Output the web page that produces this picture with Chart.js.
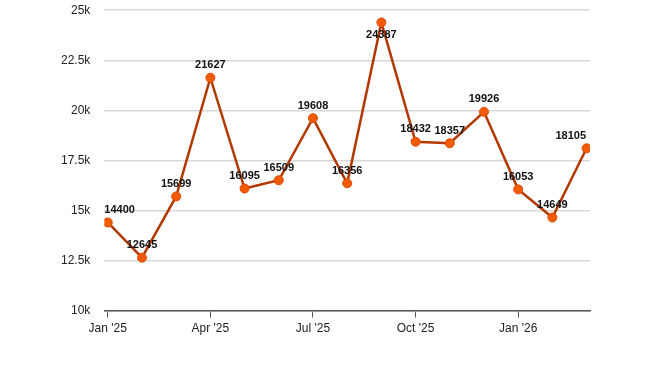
<!DOCTYPE html>
<html>
<head>
<meta charset="utf-8">
<script src="https://cdn.jsdelivr.net/npm/chart.js@4.4.1/dist/chart.umd.min.js"></script>
<style>
  html, body { margin: 0; padding: 0; background: #fff; overflow: hidden; }
  #wrap { position: relative; top: -11px; width: 650px; height: 377px; }
</style>
</head>
<body>
<div id="wrap"><canvas id="grafico"></canvas></div>
<script>
// dados
const meses = ["Jan '25", "Feb '25", "Mar '25", "Apr '25", "May '25", "Jun '25", "Jul '25", "Aug '25",
               "Sep '25", "Oct '25", "Nov '25", "Dec '25", "Jan '26", "Feb '26", "Mar '26"];
const valores = [14400, 12645, 15699, 21627, 16095, 16509, 19608, 16356, 24387, 18432, 18357, 19926, 16053, 14649, 18105];
const yTicks = [10000, 12500, 15000, 17500, 20000, 22500, 25000];

// rótulos em cima dos pontos (ficam dentro da área do gráfico)
const rotulos = {
    id: 'rotulos',
    afterDatasetsDraw(chart) {
        const ctx = chart.ctx;
        const area = chart.chartArea;
        const meta = chart.getDatasetMeta(0);
        ctx.save();
        ctx.font = 'bold 11px "Liberation Sans", Arial, sans-serif';
        ctx.fillStyle = '#111';
        ctx.textAlign = 'center';
        meta.data.forEach((p, i) => {
            const txt = String(valores[i]);
            const w = ctx.measureText(txt).width;
            let x = Math.min(Math.max(p.x, area.left + w / 2), area.right - 4 - w / 2);
            let y = p.y - 7;
            ctx.textBaseline = 'bottom';
            if (y - 12 < area.top) {
                y = p.y + 7;
                ctx.textBaseline = 'top';
            }
            ctx.fillText(txt, x, y);
        });
        ctx.restore();
    }
};

const ctx = document.getElementById('grafico').getContext('2d');
new Chart(ctx, {
    type: 'line',
    data: {
        datasets: [{
            data: valores.map((v, i) => ({ x: i, y: v })),
            borderColor: '#b33800',
            borderWidth: 2.5,
            pointRadius: 4.5,
            pointBackgroundColor: '#f25a05',
            pointBorderColor: '#e04a00',
            pointBorderWidth: 1,
            tension: 0
        }]
    },
    options: {
        responsive: true,
        maintainAspectRatio: false,
        animation: false,
        layout: { padding: { left: 47, right: 60, top: 0, bottom: 26 } },
        plugins: { legend: { display: false }, tooltip: { enabled: false } },
        scales: {
            x: {
                type: 'linear',
                min: -0.1,
                max: 14.1,
                afterBuildTicks: (axis) => { axis.ticks = [0, 3, 6, 9, 12].map(v => ({ value: v })); },
                ticks: {
                    callback: (v) => meses[v] || '',
                    color: '#222',
                    font: { family: '"Liberation Sans", Arial, sans-serif', size: 12 },
                    padding: 4,
                    maxRotation: 0
                },
                grid: { drawOnChartArea: false, drawTicks: true, tickLength: 7, color: '#555' },
                border: { color: '#555', width: 1.5 }
            },
            y: {
                min: 10000,
                max: 25000,
                afterBuildTicks: (axis) => { axis.ticks = yTicks.map(v => ({ value: v })); },
                ticks: {
                    callback: (v) => (v / 1000) + 'k',
                    color: '#222',
                    font: { family: '"Liberation Sans", Arial, sans-serif', size: 12 },
                    padding: 14
                },
                grid: { color: '#d8d8d8', lineWidth: 1.5, drawTicks: false },
                border: { display: false }
            }
        }
    },
    plugins: [rotulos]
});
</script>
</body>
</html>
